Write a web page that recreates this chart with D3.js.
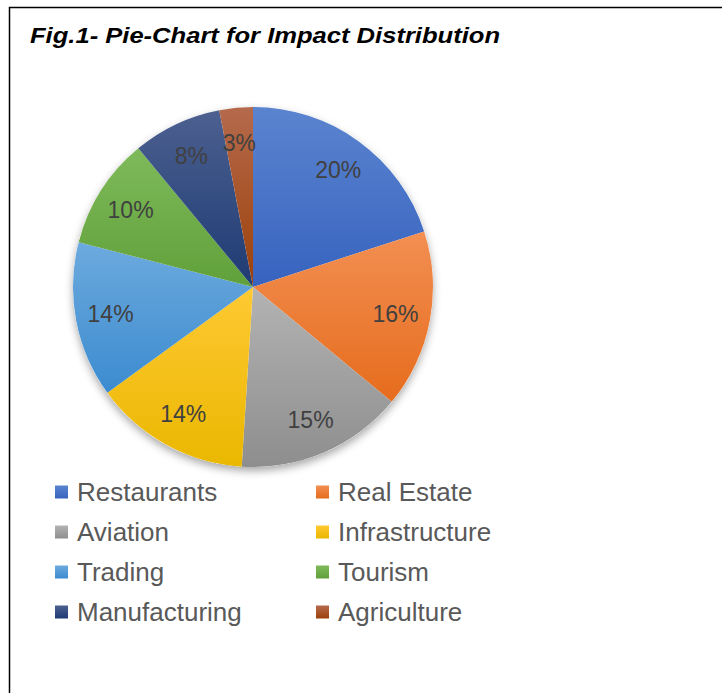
<!DOCTYPE html>
<html>
<head>
<meta charset="utf-8">
<script src="https://cdn.jsdelivr.net/npm/d3@7"></script>
<style>
  html, body { margin: 0; padding: 0; background: #fff; }
  svg { display: block; }
</style>
</head>
<body>
<script>
// Chart data
var sectors = ["Restaurants", "Real Estate", "Aviation", "Infrastructure",
               "Trading", "Tourism", "Manufacturing", "Agriculture"];
var shares = [20, 16, 15, 14, 14, 10, 8, 3];

// Slice shading: [top, bottom] of each gradient
var palette = [
    ["#5b84cf", "#3763bf"],
    ["#f28f52", "#e66c1d"],
    ["#b3b3b3", "#8e8e8e"],
    ["#ffc933", "#eab700"],
    ["#6caade", "#3c8bcf"],
    ["#7fba5a", "#60a03a"],
    ["#4d6090", "#1d3b73"],
    ["#b56a4c", "#9c4009"]
];

var width = 722, height = 693;
var style = {
    cx: 253,
    cy: 287,
    radius: 180,
    labelRadius: 145,
    legendX: [55, 316],
    legendY0: 492,
    legendStep: 40,
    legendBox: 13,
    textColor: "#595959",
    labelColor: "#404040"
};

var svg = d3.select("body").append("svg")
    .attr("width", width)
    .attr("height", height);

var defs = svg.append("defs");

// soft shadow under the pie
var shadow = defs.append("filter")
    .attr("id", "pieShadow")
    .attr("x", "-20%").attr("y", "-20%")
    .attr("width", "140%").attr("height", "140%");
shadow.append("feDropShadow")
    .attr("dx", 0).attr("dy", 4)
    .attr("stdDeviation", 4)
    .attr("flood-color", "#000")
    .attr("flood-opacity", 0.35);

palette.forEach(function(c, i) {
    var g = defs.append("linearGradient")
        .attr("id", "grad" + i)
        .attr("x1", 0).attr("y1", 0)
        .attr("x2", 0).attr("y2", 1);
    g.append("stop").attr("offset", "0%").attr("stop-color", c[0]);
    g.append("stop").attr("offset", "100%").attr("stop-color", c[1]);
});

// Frame
svg.append("rect")
    .attr("x", 9.5).attr("y", 7.5)
    .attr("width", width + 20).attr("height", height + 20)
    .attr("fill", "none")
    .attr("stroke", "#000")
    .attr("stroke-width", 1.5);

// Title
svg.append("text")
    .attr("x", 30)
    .attr("y", 43)
    .attr("font-family", "'Liberation Sans', Arial, sans-serif")
    .attr("font-weight", "bold")
    .attr("font-style", "italic")
    .attr("font-size", 22)
    .attr("fill", "#000")
    .attr("textLength", 470)
    .attr("lengthAdjust", "spacingAndGlyphs")
    .text("Fig.1- Pie-Chart for Impact Distribution");

// Pie
var pie = d3.pie().sort(null).value(function(d) { return d; });
var arcs = pie(shares);

var arc = d3.arc()
    .innerRadius(0)
    .outerRadius(style.radius);

var labelArc = d3.arc()
    .innerRadius(style.labelRadius)
    .outerRadius(style.labelRadius);

var pieGroup = svg.append("g")
    .attr("transform", "translate(" + style.cx + "," + style.cy + ")");

pieGroup.append("circle")
    .attr("r", style.radius)
    .attr("fill", "#fff")
    .attr("filter", "url(#pieShadow)");

pieGroup.selectAll("path.slice")
    .data(arcs)
    .enter().append("path")
    .attr("class", "slice")
    .attr("d", arc)
    .attr("fill", function(d, i) { return "url(#grad" + i + ")"; });

pieGroup.selectAll("text.pct")
    .data(arcs)
    .enter().append("text")
    .attr("class", "pct")
    .attr("transform", function(d) { return "translate(" + labelArc.centroid(d) + ")"; })
    .attr("text-anchor", "middle")
    .attr("dy", "0.36em")
    .attr("font-family", "'Liberation Sans', Arial, sans-serif")
    .attr("font-size", 23)
    .attr("fill", style.labelColor)
    .text(function(d) { return d.data + "%"; });

// Legend
var legend = svg.append("g");
var items = legend.selectAll("g.item")
    .data(sectors)
    .enter().append("g")
    .attr("class", "item")
    .attr("transform", function(d, i) {
        var col = i % 2, row = Math.floor(i / 2);
        return "translate(" + style.legendX[col] + "," + (style.legendY0 + row * style.legendStep) + ")";
    });

items.append("rect")
    .attr("x", 0)
    .attr("y", -style.legendBox / 2)
    .attr("width", style.legendBox)
    .attr("height", style.legendBox)
    .attr("fill", function(d, i) { return "url(#grad" + i + ")"; });

items.append("text")
    .attr("x", 22)
    .attr("dy", "0.35em")
    .attr("font-family", "'Liberation Sans', Arial, sans-serif")
    .attr("font-size", 26)
    .attr("fill", style.textColor)
    .text(function(d) { return d; });
</script>
</body>
</html>
